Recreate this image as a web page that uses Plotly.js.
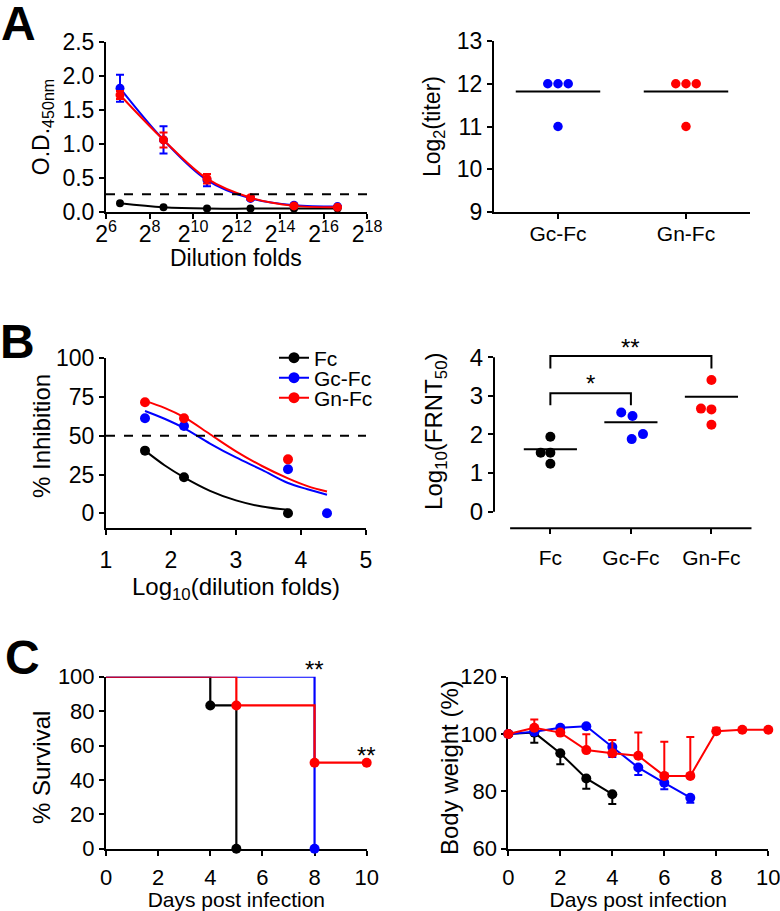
<!DOCTYPE html>
<html>
<head>
<meta charset="utf-8">
<script src="https://cdn.plot.ly/plotly-3.0.1.min.js"></script>
<style>html,body{margin:0;padding:0;background:#fff;}#chart{width:780px;height:911px;}</style>
</head>
<body>
<div id="chart"></div>
<script>
// ---------- Panel A (left): ELISA binding ----------
const dilutionFolds = [100, 400, 1600, 6400, 25600, 102400];
const odFc  = [0.13, 0.07, 0.05, 0.05, 0.05, 0.05];
const odGc  = [1.82, 1.06, 0.47, 0.20, 0.10, 0.08];
const odGn  = [1.72, 1.06, 0.49, 0.21, 0.09, 0.07];
const odGcErr = [0.20, 0.20, 0.09, 0.02, 0.02, 0.01];
const odGnErr = [0.06, 0.11, 0.07, 0.02, 0.02, 0.01];
const odCutoff = 0.26;
const dilTickVals = [64, 256, 1024, 4096, 16384, 65536, 262144];
const dilTickText = ['2<sup>6</sup>','2<sup>8</sup>','2<sup>10</sup>','2<sup>12</sup>','2<sup>14</sup>','2<sup>16</sup>','2<sup>18</sup>'];

// ---------- Panel A (right): titers ----------
const titerGroups = ['Gc-Fc', 'Gn-Fc'];
const titerGc = [12, 12, 12, 11];
const titerGn = [12, 12, 12, 11];
const titerMean = [11.82, 11.82];

// ---------- Panel B (left): neutralization ----------
const inhXFc = [1.6, 2.2, 3.8];
const inhFc  = [40.4, 23.2, 0];
const inhXGc = [1.6, 2.2, 3.8, 4.4];
const inhGc  = [61.3, 56.3, 28.4, 0];
const inhXGn = [1.6, 2.2, 3.8];
const inhGn  = [71.6, 61.3, 34.8];
const fitXFc = [1.6, 1.9, 2.2, 2.6, 3.0, 3.4, 3.8];
const fitFc  = [40.4, 31, 23.2, 14.5, 8.3, 4.3, 2.2];
const fitX   = [1.6, 1.9, 2.2, 2.6, 3.0, 3.4, 3.8, 4.1, 4.4];
const fitGc  = [66, 61, 55, 45, 36, 28, 19.5, 15.5, 12];
const fitGn  = [72.5, 68, 62, 51, 40, 30.5, 22.5, 17.5, 14];
const inhCutoff = 50;

// ---------- Panel B (right): FRNT50 ----------
const frntGroups = ['Fc', 'Gc-Fc', 'Gn-Fc'];
const frntFc = [1.94, 1.53, 1.53, 1.24];
const frntGc = [2.57, 2.48, 2.01, 1.88];
const frntGn = [3.41, 2.67, 2.65, 2.25];
const frntMean = [1.62, 2.32, 2.98];
const sigLabels = ['*', '**'];

// ---------- Panel C (left): survival ----------
const survDaysFc = [0, 4, 5];
const survFc     = [100, 83.3, 0];
const survDaysGc = [0, 8];
const survGc     = [100, 0];
const survDaysGn = [0, 5, 8, 10];
const survGn     = [100, 83.3, 50, 50];

// ---------- Panel C (right): body weight ----------
const wDaysFc = [0, 1, 2, 3, 4];
const wFc     = [100, 100.5, 93.3, 84.5, 79];
const wFcErr  = [0, 3.5, 3.8, 3.6, 3.4];
const wDaysGc = [0, 1, 2, 3, 4, 5, 6, 7];
const wGc     = [100, 100.8, 102.2, 102.7, 95.5, 88.3, 83, 77.8];
const wGcErr  = [0, 0, 0, 0, 3.5, 2.6, 2.3, 1.8];
const wDaysGn = [0, 1, 2, 3, 4, 5, 6, 7, 8, 9, 10];
const wGn     = [100, 102.2, 100.5, 94.4, 93.3, 92.4, 85.4, 85.4, 101, 101.5, 101.5];
const wGnErr  = [0, 2.9, 0, 5.5, 4.6, 8.1, 11.9, 13.6, 1.2, 0, 0];

// ---------- styling ----------
const BLACK = '#000000', BLUE = '#0000ff', RED = '#ff0000';
const FONT = 'Liberation Sans, Arial, Helvetica, sans-serif';
const W = 780, H = 911;
const px = v => v / W;
const py = v => 1 - v / H;

const traces = [];
// Panel A left
const aLine = (y, err, c, size) => ({
  x: dilutionFolds, y: y, xaxis: 'x', yaxis: 'y', mode: 'lines+markers', showlegend: false,
  line: {color: c, width: 2, shape: 'spline', smoothing: 1},
  marker: {color: c, size: size, opacity: 1},
  error_y: err ? {type: 'data', array: err, visible: true, color: c, thickness: 2, width: 4} : undefined,
  cliponaxis: false
});
traces.push(aLine(odFc, null, BLACK, 8));
traces.push(aLine(odGc, odGcErr, BLUE, 9));
traces.push(aLine(odGn, odGnErr, RED, 9));

// Panel A right
const titerJitter = [-0.08, 0, 0.08, 0];
[[titerGc, BLUE, 0], [titerGn, RED, 1]].forEach(([vals, c, gi]) => {
  traces.push({x: vals.map((v, i) => gi + titerJitter[i]), y: vals, xaxis: 'x2', yaxis: 'y2',
    mode: 'markers', marker: {color: c, size: 9.5}, showlegend: false, cliponaxis: false});
  traces.push({x: [gi - 0.33, gi + 0.33], y: [titerMean[gi], titerMean[gi]], xaxis: 'x2', yaxis: 'y2',
    mode: 'lines', line: {color: BLACK, width: 2}, showlegend: false});
});

// Panel B left
[[fitXFc, fitFc, BLACK], [fitX, fitGc, BLUE], [fitX, fitGn, RED]].forEach(([x, y, c]) => {
  traces.push({x: x, y: y, xaxis: 'x3', yaxis: 'y3', mode: 'lines', showlegend: false,
    line: {color: c, width: 2, shape: 'spline', smoothing: 1}});
});
[[inhXFc, inhFc, BLACK], [inhXGc, inhGc, BLUE], [inhXGn, inhGn, RED]].forEach(([x, y, c]) => {
  traces.push({x: x, y: y, xaxis: 'x3', yaxis: 'y3', mode: 'markers', showlegend: false,
    marker: {color: c, size: 10}, cliponaxis: false});
});
// legend entries
[['Fc', BLACK, 'legend'], ['Gc-Fc', BLUE, 'legend2'], ['Gn-Fc', RED, 'legend3']].forEach(([n, c, lg]) => {
  traces.push({x: [null], y: [null], xaxis: 'x3', yaxis: 'y3', mode: 'lines+markers', name: n,
    legend: lg, showlegend: true, line: {color: c, width: 2}, marker: {color: c, size: 11}});
});

// Panel B right
const frntJitter = [[0, -0.12, 0, 0], [-0.12, 0.02, 0.15, 0.01], [0, -0.13, 0, 0]];
[[frntFc, BLACK], [frntGc, BLUE], [frntGn, RED]].forEach(([vals, c], gi) => {
  traces.push({x: vals.map((v, i) => gi + frntJitter[gi][i]), y: vals, xaxis: 'x4', yaxis: 'y4',
    mode: 'markers', marker: {color: c, size: 10}, showlegend: false, cliponaxis: false});
  traces.push({x: [gi - 0.33, gi + 0.33], y: [frntMean[gi], frntMean[gi]], xaxis: 'x4', yaxis: 'y4',
    mode: 'lines', line: {color: BLACK, width: 2}, showlegend: false});
});
// significance brackets
const brackets = [{from: 0, to: 1, top: 3.07, leg: 2.76, label: sigLabels[0]},
                  {from: 0, to: 2, top: 4.03, leg: 3.71, label: sigLabels[1]}];
brackets.forEach(b => {
  traces.push({x: [b.from, b.from, b.to, b.to], y: [b.leg, b.top, b.top, b.leg], xaxis: 'x4', yaxis: 'y4',
    mode: 'lines', line: {color: BLACK, width: 2}, showlegend: false, cliponaxis: false});
});

// Panel C left (survival: black, blue, red on top) — step lines, then event markers
const survSets = [[survDaysFc, survFc, BLACK], [survDaysGc, survGc, BLUE], [survDaysGn, survGn, RED]];
survSets.forEach(([x, y, c]) => {
  traces.push({x: x, y: y, xaxis: 'x5', yaxis: 'y5', mode: 'lines', showlegend: false,
    line: {color: c, width: 2.2, shape: 'hv'}});
});
survSets.forEach(([x, y, c]) => {
  traces.push({x: x.slice(1), y: y.slice(1), xaxis: 'x5', yaxis: 'y5', mode: 'markers', showlegend: false,
    marker: {color: c, opacity: 1, size: 10}, cliponaxis: false});
});

// Panel C right (body weight)
traces.push({x: wDaysFc, y: wFc, xaxis: 'x6', yaxis: 'y6', mode: 'lines+markers', showlegend: false,
  line: {color: BLACK, width: 2}, marker: {color: BLACK, size: 10}, cliponaxis: false,
  error_y: {type: 'data', symmetric: false, array: wFcErr.map(() => 0), arrayminus: wFcErr, color: BLACK, thickness: 2, width: 4}});
traces.push({x: wDaysGc, y: wGc, xaxis: 'x6', yaxis: 'y6', mode: 'lines+markers', showlegend: false,
  line: {color: BLUE, width: 2}, marker: {color: BLUE, size: 10}, cliponaxis: false,
  error_y: {type: 'data', symmetric: false, array: wGcErr.map(() => 0), arrayminus: wGcErr, color: BLUE, thickness: 2, width: 4}});
traces.push({x: wDaysGn, y: wGn, xaxis: 'x6', yaxis: 'y6', mode: 'lines+markers', showlegend: false,
  line: {color: RED, width: 2}, marker: {color: RED, size: 10}, cliponaxis: false,
  error_y: {type: 'data', symmetric: false, array: wGnErr, arrayminus: wGnErr.map(() => 0), color: RED, thickness: 2, width: 4}});

// ---------- axes ----------
const base = (tf) => ({
  showline: true, linecolor: BLACK, linewidth: 2, ticks: 'outside', ticklen: 5, tickwidth: 2,
  tickcolor: BLACK, showgrid: false, zeroline: false, fixedrange: true, ticklabeloverflow: 'allow',
  layer: 'below traces', tickfont: {family: FONT, size: tf, color: BLACK}
});
const ttl = (text, size, standoff) => ({text: text, font: {family: FONT, size: size, color: BLACK}, standoff: standoff});
const tAnn = (text, x, y, size, angle) => ({text: text, xref: 'paper', yref: 'paper', x: px(x), y: py(y),
  xanchor: 'center', yanchor: 'middle', textangle: angle || 0, showarrow: false,
  font: {family: FONT, size: size, color: BLACK}});

const layout = {
  width: W, height: H, margin: {l: 0, r: 0, t: 0, b: 0}, paper_bgcolor: '#fff', plot_bgcolor: 'rgba(0,0,0,0)',
  font: {family: FONT, color: BLACK},
  // A left
  xaxis: Object.assign(base(23), {domain: [px(106), px(367)], anchor: 'y', type: 'log',
    range: [Math.log10(64), Math.log10(262144)], tickmode: 'array', tickvals: dilTickVals, ticktext: dilTickText,
    ticklabelstandoff: -5}),
  yaxis: Object.assign(base(23), {domain: [py(212), py(42)], anchor: 'x', range: [0, 2.5],
    tickmode: 'array', tickvals: [0, 0.5, 1, 1.5, 2, 2.5], ticktext: ['0.0','0.5','1.0','1.5','2.0','2.5'],
    title: ttl('O.D.<sub>450nm</sub>', 23, 6)}),
  // A right
  xaxis2: Object.assign(base(21), {domain: [px(494), px(750)], anchor: 'y2', range: [-0.5, 1.5],
    tickmode: 'array', tickvals: [0, 1], ticktext: titerGroups, ticklabelstandoff: -3}),
  yaxis2: Object.assign(base(23), {domain: [py(212), py(41)], anchor: 'x2', range: [9, 13], dtick: 1,
    title: ttl('Log<sub>2</sub>(titer)', 23, 10)}),
  // B left
  xaxis3: Object.assign(base(23), {domain: [px(106), px(366)], anchor: 'y3', range: [1, 5], dtick: 1,
    ticklabelstandoff: 5, title: ttl('Log<sub>10</sub>(dilution folds)', 24, 1)}),
  yaxis3: Object.assign(base(23), {domain: [py(528.3), py(358.3)], anchor: 'x3', range: [-9.7, 100],
    tickmode: 'array', tickvals: [0, 25, 50, 75, 100]}),
  // B right
  xaxis4: Object.assign(base(21), {domain: [px(494), px(751.7)], anchor: 'y4', range: [-0.7, 2.5], showline: false,
    tickmode: 'array', tickvals: [0, 1, 2], ticktext: frntGroups, ticklabelstandoff: 5}),
  yaxis4: Object.assign(base(24), {domain: [py(528.3), py(334.1)], anchor: 'x4', range: [-0.43, 4.6], showline: false,
    tickmode: 'array', tickvals: [0, 1, 2, 3, 4], title: ttl('Log<sub>10</sub>(FRNT<sub>50</sub>)', 24, 20)}),
  // C left
  xaxis5: Object.assign(base(22), {domain: [px(106), px(366.7)], anchor: 'y5', range: [0, 10], dtick: 2,
    ticklabelstandoff: 3, title: ttl('Days post infection', 21, 1)}),
  yaxis5: Object.assign(base(22), {domain: [py(848.7), py(676.7)], anchor: 'x5', range: [0, 100], dtick: 20}),
  // C right
  xaxis6: Object.assign(base(22), {domain: [px(508.3), px(768.3)], anchor: 'y6', range: [0, 10], dtick: 2,
    ticklabelstandoff: 3, title: ttl('Days post infection', 21, 1)}),
  yaxis6: Object.assign(base(22), {domain: [py(848.7), py(676.7)], anchor: 'x6', range: [60, 120], dtick: 20}),
  legend:  {x: px(274), y: py(358), xanchor: 'left', yanchor: 'middle', bgcolor: 'rgba(0,0,0,0)', borderwidth: 0,
            font: {family: FONT, size: 21, color: BLACK}, itemclick: false},
  legend2: {x: px(274), y: py(378), xanchor: 'left', yanchor: 'middle', bgcolor: 'rgba(0,0,0,0)', borderwidth: 0,
            font: {family: FONT, size: 21, color: BLACK}, itemclick: false},
  legend3: {x: px(274), y: py(398), xanchor: 'left', yanchor: 'middle', bgcolor: 'rgba(0,0,0,0)', borderwidth: 0,
            font: {family: FONT, size: 21, color: BLACK}, itemclick: false},
  shapes: [
    {type: 'line', xref: 'x domain', yref: 'y', x0: 0, x1: 1, y0: odCutoff, y1: odCutoff,
     line: {color: BLACK, width: 2, dash: 'dash'}},
    {type: 'line', xref: 'x3 domain', yref: 'y3', x0: 0, x1: 1, y0: inhCutoff, y1: inhCutoff,
     line: {color: BLACK, width: 2, dash: 'dash'}},
    {type: 'line', xref: 'x4 domain', yref: 'y4', x0: 0, x1: 0, y0: 0, y1: 4, line: {color: BLACK, width: 2}},
    {type: 'line', xref: 'x4', yref: 'y4 domain', x0: -0.5, x1: 2.5, y0: 0, y1: 0, line: {color: BLACK, width: 2}}
  ],
  annotations: [
    {text: '<b>A</b>', xref: 'paper', yref: 'paper', x: px(18), y: py(24), xanchor: 'center', yanchor: 'middle',
     showarrow: false, font: {family: FONT, size: 48, color: BLACK}},
    {text: '<b>B</b>', xref: 'paper', yref: 'paper', x: px(17), y: py(341), xanchor: 'center', yanchor: 'middle',
     showarrow: false, font: {family: FONT, size: 48, color: BLACK}},
    {text: '<b>C</b>', xref: 'paper', yref: 'paper', x: px(22), y: py(657), xanchor: 'center', yanchor: 'middle',
     showarrow: false, font: {family: FONT, size: 48, color: BLACK}},
    tAnn('Dilution folds', 236.5, 258, 23, 0),
    tAnn('% Inhibition', 41, 436, 24, -90),
    tAnn('% Survival', 41, 768, 24, -90),
    tAnn('Body weight (%)', 449, 767, 24, -90),
    {text: brackets[0].label, xref: 'x4', yref: 'y4', x: (brackets[0].from + brackets[0].to) / 2, y: brackets[0].top,
     yanchor: 'bottom', yshift: -6, showarrow: false, font: {family: FONT, size: 24, color: BLACK}},
    {text: brackets[1].label, xref: 'x4', yref: 'y4', x: (brackets[1].from + brackets[1].to) / 2, y: brackets[1].top,
     yanchor: 'bottom', yshift: -7, showarrow: false, font: {family: FONT, size: 24, color: BLACK}},
    {text: '**', xref: 'x5', yref: 'y5', x: survDaysGc[1], y: survGc[0], yanchor: 'bottom', yshift: -8, showarrow: false,
     font: {family: FONT, size: 24, color: BLACK}},
    {text: '**', xref: 'x5', yref: 'y5', x: survDaysGn[3], y: survGn[3], yanchor: 'bottom', yshift: -8, showarrow: false,
     font: {family: FONT, size: 24, color: BLACK}}
  ]
};

Plotly.newPlot('chart', traces, layout, {displayModeBar: false, staticPlot: true});
</script>
</body>
</html>
